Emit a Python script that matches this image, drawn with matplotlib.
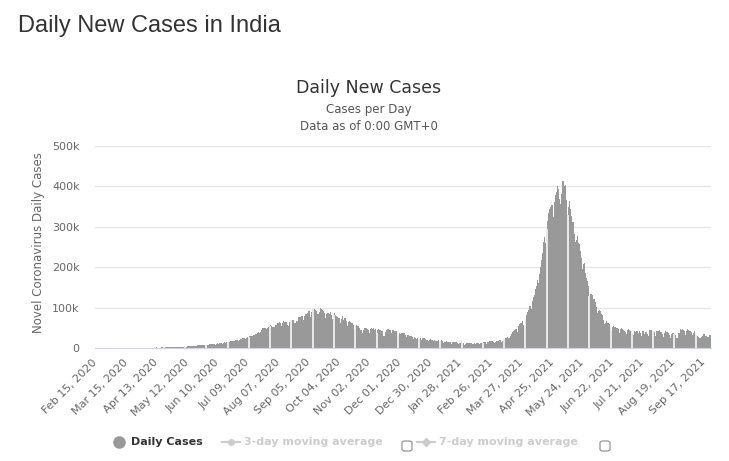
import datetime as dt
import numpy as np
import matplotlib
matplotlib.use("Agg")
import matplotlib.pyplot as plt
from matplotlib.lines import Line2D
from matplotlib.patches import FancyBboxPatch

# daily new cases in India, month by month (starting Feb 15, 2020, ending Sep 23, 2021)
feb20 = [0] * 15
mar20 = [0, 2, 1, 22, 2, 1, 3, 5, 4, 13, 6, 11, 10, 13, 6, 23, 14, 25, 27, 58,
         78, 69, 94, 74, 86, 73, 153, 136, 120, 187, 309]
apr20 = [424, 486, 560, 579, 609, 484, 573, 565, 813, 871, 854, 758, 1243, 1031, 886,
         1061, 922, 1371, 1580, 1239, 1537, 1292, 1667, 1408, 1835, 1607, 1568, 1902, 1705, 1801]
may20 = [2396, 2564, 2952, 3656, 2971, 3602, 3344, 3339, 3175, 4311, 3592, 3562, 3726, 3967,
         3970, 4987, 5050, 4628, 6154, 5720, 6023, 6536, 6667, 7111, 6414, 6459, 6387, 7246,
         7254, 8138, 8380]
jun20 = [8392, 8171, 9633, 9851, 9889, 10438, 10864, 8442, 9987, 12375, 11128, 11458, 11929,
         11502, 10667, 13103, 14516, 13586, 14721, 15413, 14933, 15915, 16922, 17296, 18205,
         17296, 19906, 19459, 18653, 18522]
jul20 = [19429, 21947, 22718, 24850, 24248, 23942, 22500, 25571, 26506, 27114, 28637, 29108,
         28498, 29429, 32695, 35468, 34884, 37148, 40425, 37740, 38902, 45720, 49310, 48916,
         48661, 49931, 47704, 48513, 52123, 55079, 57118]
aug20 = [54735, 52972, 52050, 52509, 56282, 62538, 61537, 64399, 62064, 53601, 60963, 66999,
         64553, 65002, 63490, 57981, 55079, 64531, 69652, 68900, 69874, 69239, 61408, 60975,
         67151, 75760, 77266, 76472, 78761, 78512, 69921]
sep20 = [78357, 83883, 83341, 86432, 90632, 90802, 75809, 89706, 95735, 96551, 97570, 94372,
         92071, 83809, 90123, 97894, 96424, 93337, 92605, 86961, 75083, 83347, 86508, 86052,
         85362, 88600, 82170, 70589, 80472, 86821]
oct20 = [81484, 79476, 75829, 74442, 61267, 72049, 78524, 70496, 73272, 74383, 66732, 55342,
         63509, 67708, 63371, 62212, 61871, 55722, 46790, 54044, 55839, 54366, 53370, 50129,
         45148, 36470, 43893, 49881, 48648, 48268, 46963]
nov20 = [45231, 38310, 46253, 50210, 47638, 50357, 45674, 45903, 38073, 44281, 47905, 44879,
         44684, 41100, 30548, 29164, 38617, 45576, 45882, 46232, 45209, 44059, 37975, 44376,
         44489, 43082, 41322, 41810, 38772, 31118]
dec20 = [36604, 35551, 36595, 36652, 36011, 32981, 26567, 32080, 31522, 29398, 30006, 30254,
         27071, 22065, 26382, 24010, 22890, 25152, 26624, 25072, 24337, 19556, 23950, 24712,
         23067, 18732, 20021, 16432, 20550, 21822, 20036]
jan21 = [19079, 18177, 18732, 16504, 16375, 18088, 20346, 18139, 18222, 18645, 16311, 12584,
         15968, 16946, 15590, 15158, 15144, 13788, 10064, 13823, 15223, 14545, 14256, 14849,
         13203, 9102, 12689, 11666, 18855, 13083, 11427]
feb21 = [8635, 11039, 12899, 11893, 12408, 12059, 11713, 9110, 11067, 12923, 9309, 12143,
         12194, 11427, 9121, 11610, 12881, 13193, 13993, 14264, 14199, 10584, 13742, 16738,
         16577, 16488, 16752, 15510]
mar21 = [12286, 15616, 17407, 16838, 18327, 18711, 18599, 15388, 17921, 22854, 23285, 24882,
         25320, 26291, 24492, 28903, 35871, 39726, 40953, 43846, 46951, 47262, 40715, 53476,
         59118, 62258, 62714, 68020, 56211, 53480, 72330]
apr21 = [81466, 89129, 93249, 103558, 96982, 115736, 126789, 131968, 144829, 152879, 168912,
         161736, 184372, 200739, 217353, 234692, 261500, 273810, 259170, 295041, 314835,
         332921, 345147, 349691, 352991, 323023, 360927, 379308, 386555, 401993]
may21 = [392562, 368060, 357229, 382315, 412262, 414188, 401078, 403738, 366161, 329517,
         348421, 362727, 343144, 326098, 311170, 281386, 263045, 267174, 276059, 259551,
         257299, 240842, 222315, 195815, 208921, 211298, 186364, 173790, 165553, 152734, 127510]
jun21 = [132788, 134154, 132364, 120529, 114460, 100636, 86498, 92596, 94052, 91702, 84332,
         80834, 70421, 60471, 62224, 67208, 62480, 60753, 58419, 53256, 42640, 50848, 54069,
         51667, 48698, 50040, 46148, 37566, 45951, 48786]
jul21 = [46617, 44111, 43071, 39796, 34703, 43733, 45892, 43393, 42766, 41506, 37154, 32906,
         41806, 38792, 41806, 38079, 41157, 38164, 30093, 42015, 41383, 35342, 39097, 39742,
         35342, 29689, 43654, 43509, 44230, 41649, 41831]
aug21 = [40134, 30549, 42625, 42982, 44643, 38628, 39070, 35499, 28204, 38353, 41195, 40120,
         38667, 36083, 32937, 25166, 35178, 36401, 36571, 34457, 30948, 25072, 25467, 37593,
         46164, 44658, 46759, 45083, 42909, 30941, 41965]
sep21 = [47092, 45352, 42618, 42766, 38948, 31222, 37875, 43263, 34973, 33376, 28591, 27254,
         25404, 27176, 30570, 34403, 35662, 30773, 30256, 26115, 26964, 31923, 31382]

cases = (feb20 + mar20 + apr20 + may20 + jun20 + jul20 + aug20 + sep20 + oct20 + nov20
         + dec20 + jan21 + feb21 + mar21 + apr21 + may21 + jun21 + jul21 + aug21 + sep21)
start = dt.date(2020, 2, 15)
dates = [start + dt.timedelta(days=i) for i in range(len(cases))]
tick_idx = list(range(0, len(cases), 29))
tick_labels = [dates[i].strftime("%b %d, %Y") for i in tick_idx]
yticks = [0, 100000, 200000, 300000, 400000, 500000]
ytick_labels = ["0", "100k", "200k", "300k", "400k", "500k"]

W, H = 729, 461
fig = plt.figure(figsize=(W / 100, H / 100), dpi=100)
fig.patch.set_facecolor("white")

def px(x, y):
    return x / W, 1 - y / H

ax = fig.add_axes([95 / W, 1 - 348 / H, (711 - 95) / W, (348 - 146) / H])
x = np.arange(len(cases))
ax.bar(x, cases, width=1.0, color="#999999", linewidth=0, zorder=2)

# thin white seams the original renderer leaves between groups of columns
seams = np.arange(4.3, len(cases), 20.27)
ax.vlines(seams, 0, [cases[int(round(s))] for s in seams], color="white", lw=1.1, zorder=3)

ax.set_xlim(-0.5, len(cases) - 0.5)
ax.set_ylim(0, 500000)
ax.set_yticks(yticks)
ax.set_yticklabels(ytick_labels)
ax.grid(axis="y", color="#e6e6e6", lw=1, zorder=0)
ax.set_axisbelow(True)
for s in ["top", "right", "left"]:
    ax.spines[s].set_visible(False)
ax.spines["bottom"].set_color("#ccd6eb")
ax.spines["bottom"].set_zorder(4)
ax.set_xticks(tick_idx)
ax.set_xticklabels(tick_labels, rotation=45, ha="right", va="center", rotation_mode="anchor")
ax.tick_params(axis="x", length=0, pad=9, labelsize=8, labelcolor="#666666")
ax.tick_params(axis="y", length=0, pad=11, labelsize=8, labelcolor="#666666")
ax.set_ylabel("Novel Coronavirus Daily Cases", color="#666666", fontsize=8.5)
ax.yaxis.set_label_coords((45 - 95) / 616, 0.522)

fig.text(*px(18, 26), "Daily New Cases in India", fontsize=17, color="#333333",
         family="Liberation Sans", va="center", ha="left")
fig.text(*px(369, 88), "Daily New Cases", fontsize=12.5, color="#333333", ha="center", va="center")
fig.text(*px(369, 110), "Cases per Day", fontsize=8.5, color="#555555", ha="center", va="center")
fig.text(*px(369, 126), "Data as of 0:00 GMT+0", fontsize=8.5, color="#555555", ha="center", va="center")

# legend row
ly = 442
fig.add_artist(Line2D([119 / W], [1 - ly / H], marker="o", ms=8, color="#999999", transform=fig.transFigure))
fig.text(*px(131, ly), "Daily Cases", fontsize=8, fontweight="bold", color="#333333", va="center")
fig.add_artist(Line2D([222 / W, 240 / W], [1 - ly / H] * 2, color="#cccccc", lw=1.5,
                      transform=fig.transFigure))
fig.add_artist(Line2D([231 / W], [1 - ly / H], marker="o", ms=4, color="#cccccc", transform=fig.transFigure))
fig.text(*px(244, ly), "3-day moving average", fontsize=8, fontweight="bold", color="#cccccc", va="center")
fig.add_artist(Line2D([417 / W, 435 / W], [1 - ly / H] * 2, color="#cccccc", lw=1.5,
                      transform=fig.transFigure))
fig.add_artist(Line2D([426 / W], [1 - ly / H], marker="D", ms=4, color="#cccccc", transform=fig.transFigure))
fig.text(*px(439, ly), "7-day moving average", fontsize=8, fontweight="bold", color="#cccccc", va="center")
for cx in (407, 605):
    box = FancyBboxPatch(((cx - 5) / W, 1 - 451 / H), 10 / W, 10 / H,
                         boxstyle="round,pad=0,rounding_size=0.004", transform=fig.transFigure,
                         facecolor="white", edgecolor="#888888", lw=0.8)
    fig.add_artist(box)

fig.savefig("out.png", dpi=100)
